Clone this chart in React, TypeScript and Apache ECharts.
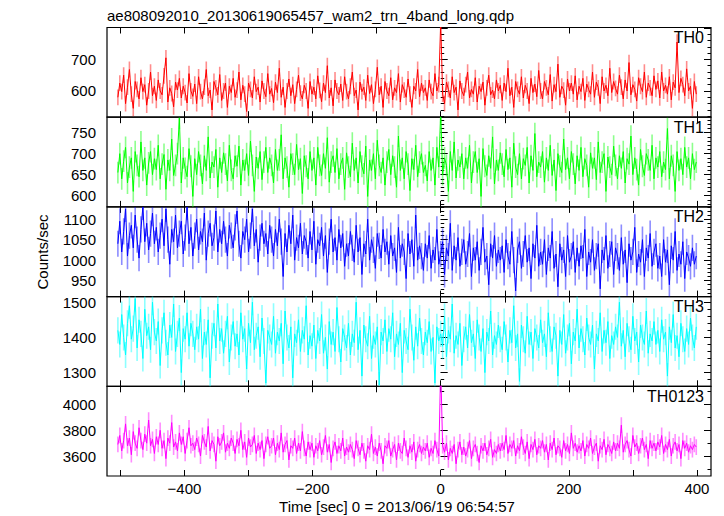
import React, { useEffect, useRef } from "react";
import * as echarts from "echarts";

const TITLE = "ae808092010_20130619065457_wam2_trn_4band_long.qdp";
const X_NAME = "Time [sec] 0 = 2013/06/19 06:54:57";
const Y_NAME = "Counts/sec";

// sampling grid of the light curves (sec)
const TIME_START = -504;
const TIME_STEP = 3;

const X_MIN = -521;
const X_MAX = 422;
const X_TICKS = [-500, -400, -300, -200, -100, 0, 100, 200, 300, 400];
const X_LABELS = [-400, -200, 0, 200, 400];

const PANEL_NAMES = ["TH0", "TH1", "TH2", "TH3", "TH0123"];
const PANEL_COLORS = ["#ff0000", "#00ff00", "#0000ff", "#00ffff", "#ff00ff"];
const ERR_COLORS = [
  "rgba(255,0,0,0.45)",
  "rgba(0,255,0,0.45)",
  "rgba(0,0,255,0.45)",
  "rgba(0,255,255,0.45)",
  "rgba(255,0,255,0.45)",
];
const ERRORS = [25, 26, 32, 37, 61];

const Y_MIN = [517, 573, 911, 1261, 3445];
const Y_MAX = [801, 787, 1130, 1516, 4142];
const Y_MAJOR = [
  [600, 700, 800],
  [600, 650, 700, 750],
  [950, 1000, 1050, 1100],
  [1300, 1400, 1500],
  [3600, 3800, 4000],
];
const Y_LABELS = [
  [600, 700],
  [600, 650, 700, 750],
  [950, 1000, 1050, 1100],
  [1300, 1400, 1500],
  [3600, 3800, 4000],
];
const Y_MINOR = [
  [520, 540, 560, 580, 600, 620, 640, 660, 680, 700, 720, 740, 760, 780, 800],
  [580, 590, 600, 610, 620, 630, 640, 650, 660, 670, 680, 690, 700, 710, 720, 730, 740, 750, 760, 770, 780],
  [920, 930, 940, 950, 960, 970, 980, 990, 1000, 1010, 1020, 1030, 1040, 1050, 1060, 1070, 1080, 1090, 1100, 1110, 1120, 1130],
  [1280, 1300, 1320, 1340, 1360, 1380, 1400, 1420, 1440, 1460, 1480, 1500],
  [3500, 3600, 3700, 3800, 3900, 4000, 4100],
];

const TH0 = [
  580, 625, 598, 650, 560, 612, 668, 590, 545, 630, 605, 575, 642, 598, 620, 555, 600, 660, 585, 615,
  570, 635, 600, 588, 648, 705, 565, 610, 592, 550, 628, 603, 640, 578, 615, 595, 562, 655, 600, 583,
  622, 560, 645, 598, 575, 612, 668, 585, 603, 540, 630, 610, 588, 652, 570, 600, 625, 548, 615, 595,
  640, 580, 603, 660, 572, 618, 590, 535, 625, 605, 578, 645, 598, 612, 565, 632, 600, 582, 655, 590,
  608, 563, 628, 595, 672, 580, 612, 548, 600, 638, 585, 620, 560, 605, 650, 593, 575, 618, 600, 545,
  630, 590, 612, 575, 648, 602, 566, 625, 595, 680, 578, 610, 553, 635, 600, 588, 622, 570, 645, 598,
  575, 615, 660, 585, 603, 540, 628, 598, 612, 570, 650, 592, 620, 560, 605, 675, 588, 615, 548, 630,
  600, 585, 642, 572, 610, 595, 655, 565, 620, 603, 580, 638, 590, 548, 615, 600, 668, 582, 625, 595,
  610, 570, 635, 598, 585, 655, 600, 620, 820, 590, 560, 628, 605, 578, 645, 595, 612, 540, 632, 600,
  585, 620, 660, 578, 605, 590, 642, 565, 615, 598, 628, 555, 610, 650, 588, 603, 575, 635, 600, 618,
  570, 625, 598, 672, 585, 612, 548, 630, 605, 590, 645, 578, 618, 600, 560, 640, 595, 622, 582, 665,
  600, 575, 630, 610, 588, 652, 568, 620, 598, 685, 580, 615, 603, 555, 638, 600, 625, 590, 648, 572,
  615, 598, 640, 570, 622, 605, 590, 660, 580, 628, 610, 560, 645, 600, 618, 585, 672, 595, 630, 608,
  590, 650, 612, 575, 635, 600, 690, 588, 620, 605, 568, 642, 615, 598, 660, 580, 625, 610, 585, 648,
  605, 632, 578, 660, 600, 618, 590, 645, 572, 628, 610, 755, 595, 640, 620, 585, 670, 600, 615, 545,
  630, 590,
];

const TH1 = [
  655, 700, 640, 682, 715, 630, 668, 690, 610, 705, 672, 645, 728, 660, 690, 625, 678, 705, 650, 688,
  662, 720, 640, 675, 698, 615, 685, 660, 735, 648, 672, 700, 785, 630, 690, 665, 645, 712, 670, 598,
  688, 650, 705, 672, 628, 695, 660, 740, 642, 680, 668, 710, 620, 690, 655, 702, 675, 635, 720, 660,
  640, 695, 670, 718, 625, 685, 660, 700, 648, 730, 672, 610, 692, 665, 705, 638, 680, 715, 655, 690,
  672, 630, 710, 660, 685, 745, 640, 690, 668, 620, 700, 675, 650, 722, 662, 688, 605, 695, 670, 640,
  705, 660, 690, 625, 715, 672, 648, 700, 665, 738, 632, 680, 695, 655, 712, 640, 675, 690, 615, 702,
  668, 645, 725, 660, 690, 630, 705, 670, 652, 718, 598, 685, 660, 700, 640, 732, 672, 655, 690, 625,
  680, 710, 650, 695, 668, 620, 742, 660, 690, 640, 705, 675, 612, 688, 662, 720, 645, 680, 700, 655,
  672, 635, 705, 660, 690, 625, 715, 668, 800, 650, 690, 672, 610, 705, 660, 728, 642, 685, 668, 700,
  640, 690, 665, 720, 630, 680, 705, 655, 688, 598, 712, 670, 648, 695, 665, 740, 628, 685, 660, 702,
  675, 645, 710, 662, 690, 620, 725, 668, 650, 700, 640, 688, 672, 715, 630, 695, 660, 748, 645, 680,
  668, 705, 632, 690, 660, 720, 648, 685, 612, 700, 670, 655, 735, 662, 690, 640, 705, 675, 628, 695,
  660, 715, 645, 688, 672, 620, 702, 665, 690, 638, 728, 655, 680, 700, 610, 692, 668, 650, 718, 672,
  640, 695, 665, 705, 630, 688, 675, 742, 650, 690, 662, 625, 710, 670, 648, 700, 685, 660, 720, 640,
  690, 668, 705, 645, 680, 662, 760, 640, 695, 672, 610, 705, 660, 688, 650, 715, 668, 690, 640, 700,
  662, 680,
];

const TH2 = [
  1040, 1095, 1020, 1070, 1125, 1010, 1060, 1085, 1030, 1110, 1050, 1005, 1075, 1130, 1045, 1090, 1025, 1065, 1115, 1040,
  1080, 1020, 1060, 1100, 1035, 1125, 1050, 990, 1075, 1045, 1110, 1030, 1065, 1095, 1015, 1055, 1130, 1040, 1080, 1010,
  1060, 1100, 1025, 1070, 1045, 1115, 1000, 1065, 1090, 1035, 1055, 1120, 1020, 1075, 1040, 1095, 1050, 1010, 1085, 1060,
  1030, 1080, 1120, 1040, 1005, 1070, 1050, 1100, 1020, 1060, 1125, 1035, 1075, 995, 1055, 1090, 1040, 1065, 1015, 1085,
  1050, 1010, 1075, 1035, 1100, 1045, 960, 1065, 1020, 1085, 1040, 1110, 1000, 1055, 1030, 1090, 1015, 1060, 1045, 1005,
  1070, 1025, 1095, 990, 1050, 1035, 1080, 1010, 1060, 970, 1045, 1100, 1020, 1055, 1000, 1075, 1030, 1065, 985, 1040,
  1010, 1070, 1030, 995, 1085, 1020, 1055, 965, 1040, 1015, 1100, 1000, 1050, 1025, 980, 1065, 1035, 1005, 1075, 1020,
  1045, 990, 1060, 1010, 1030, 970, 1080, 1005, 1040, 1020, 955, 1065, 1015, 1050, 985, 1110, 1000, 1035, 1010, 975,
  1040, 1005, 1060, 980, 1025, 1000, 1075, 990, 1015, 1045, 965, 1030, 1010, 1090, 975, 1035, 1000, 1055, 985, 1020,
  1050, 990, 1015, 1065, 960, 1030, 1000, 1045, 975, 1020, 1080, 995, 1010, 940, 1040, 1005, 1060, 985, 1025, 1000,
  1035, 970, 1050, 1010, 990, 1070, 1000, 925, 1025, 1045, 980, 1015, 1060, 995, 1030, 955, 1040, 1005, 1085, 985,
  1020, 990, 1050, 965, 1030, 1005, 1070, 980, 1015, 935, 1040, 1000, 1025, 960, 1060, 995, 1010, 1045, 970, 1030,
  985, 1035, 1005, 1075, 960, 1020, 995, 1050, 975, 1010, 1040, 930, 1025, 1000, 1060, 980, 1015, 1045, 965, 1030,
  1010, 975, 1055, 990, 1025, 945, 1040, 1000, 1020, 1080, 970, 1015, 995, 1050, 960, 1030, 1005, 1065, 985, 1020,
  1040, 980, 1010, 960, 1050, 995, 1025, 940, 1035, 1000, 1070, 975, 1015, 990, 1045, 955, 1020, 1005, 985, 1030,
  990, 1010,
];

const TH3 = [
  1420, 1380, 1465, 1400, 1350, 1440, 1490, 1395, 1425, 1510, 1370, 1450, 1410, 1340, 1480, 1405, 1430, 1365, 1500, 1415,
  1390, 1445, 1320, 1420, 1470, 1385, 1350, 1435, 1400, 1495, 1360, 1410, 1455, 1300, 1425, 1395, 1470, 1375, 1440, 1410,
  1365, 1430, 1395, 1480, 1340, 1415, 1380, 1450, 1285, 1405, 1440, 1370, 1495, 1390, 1425, 1355, 1410, 1460, 1330, 1400,
  1445, 1375, 1410, 1350, 1470, 1395, 1425, 1310, 1440, 1385, 1500, 1365, 1405, 1430, 1345, 1455, 1390, 1270, 1420, 1400,
  1380, 1460, 1355, 1415, 1390, 1440, 1325, 1475, 1400, 1370, 1430, 1285, 1410, 1385, 1450, 1360, 1420, 1395, 1490, 1350,
  1405, 1375, 1435, 1340, 1420, 1390, 1465, 1355, 1400, 1310, 1445, 1380, 1415, 1360, 1485, 1395, 1330, 1425, 1400, 1370,
  1440, 1350, 1410, 1385, 1500, 1365, 1420, 1290, 1435, 1395, 1375, 1460, 1340, 1405, 1380, 1430, 1265, 1415, 1390, 1450,
  1360, 1425, 1395, 1470, 1345, 1410, 1380, 1440, 1300, 1420, 1390, 1365, 1480, 1400, 1335, 1430, 1375, 1455, 1390, 1350,
  1415, 1385, 1445, 1360, 1400, 1270, 1430, 1390, 1410, 1375, 1460, 1345, 1420, 1395, 1495, 1355, 1405, 1380, 1440, 1320,
  1395, 1430, 1370, 1465, 1385, 1410, 1340, 1450, 1400, 1360, 1425, 1300, 1415, 1390, 1475, 1350, 1405, 1380, 1435, 1395,
  1365, 1445, 1400, 1330, 1420, 1385, 1490, 1370, 1410, 1275, 1435, 1395, 1355, 1460, 1380, 1415, 1340, 1425, 1400, 1370,
  1450, 1385, 1410, 1345, 1470, 1395, 1360, 1430, 1405, 1290, 1420, 1380, 1465, 1355, 1400, 1440, 1325, 1415, 1390, 1480,
  1370, 1425, 1395, 1350, 1455, 1400, 1380, 1435, 1310, 1410, 1390, 1470, 1360, 1420, 1385, 1445, 1340, 1405, 1380, 1430,
  1400, 1500, 1375, 1420, 1345, 1440, 1395, 1365, 1460, 1390, 1415, 1330, 1435, 1400, 1380, 1475, 1355, 1410, 1390, 1445,
  1380, 1420, 1360, 1450, 1395, 1415, 1290, 1430, 1385, 1465, 1370, 1405, 1345, 1440, 1395, 1360, 1425, 1380, 1455, 1400,
  1370, 1430,
];

const TH0123 = [
  3690, 3760, 3640, 3720, 3850, 3680, 3740, 3610, 3790, 3700, 3660, 3820, 3720, 3650, 3770, 3700, 3880, 3680, 3730, 3620,
  3750, 3690, 3800, 3660, 3720, 3580, 3740, 3700, 3860, 3670, 3710, 3640, 3780, 3690, 3750, 3620, 3720, 3820, 3680, 3700,
  3650, 3740, 3690, 3600, 3760, 3710, 3670, 3830, 3640, 3720, 3690, 3560, 3750, 3680, 3710, 3780, 3630, 3700, 3660, 3740,
  3700, 3620, 3730, 3680, 3800, 3650, 3710, 3590, 3740, 3670, 3690, 3760, 3620, 3700, 3650, 3720, 3580, 3690, 3750, 3660,
  3680, 3740, 3610, 3700, 3650, 3780, 3630, 3690, 3720, 3570, 3680, 3660, 3740, 3620, 3700, 3640, 3790, 3660, 3600, 3710,
  3650, 3700, 3590, 3680, 3640, 3720, 3610, 3670, 3760, 3630, 3690, 3550, 3660, 3710, 3620, 3680, 3640, 3740, 3600, 3670,
  3630, 3690, 3650, 3580, 3720, 3660, 3610, 3700, 3640, 3560, 3680, 3650, 3770, 3620, 3670, 3600, 3700, 3640, 3540, 3680,
  3660, 3720, 3600, 3650, 3690, 3570, 3700, 3640, 3620, 3740, 3660, 3590, 3680, 3630, 3710, 3560, 3650, 3690, 3620, 3670,
  3640, 3700, 3590, 3660, 3620, 3720, 3650, 3600, 4300, 3680, 3630, 3700, 3570, 3660, 3620, 3690, 3540, 3650, 3710, 3610,
  3670, 3600, 3650, 3720, 3580, 3660, 3690, 3620, 3550, 3680, 3640, 3700, 3610, 3660, 3730, 3590, 3650, 3620, 3690, 3640,
  3700, 3650, 3760, 3620, 3690, 3660, 3720, 3600, 3680, 3640, 3750, 3670, 3620, 3710, 3580, 3690, 3650, 3730, 3610, 3680,
  3660, 3720, 3630, 3690, 3570, 3700, 3650, 3740, 3610, 3680, 3660, 3590, 3720, 3640, 3690, 3620, 3780, 3660, 3700, 3630,
  3680, 3640, 3720, 3600, 3690, 3660, 3740, 3620, 3670, 3700, 3560, 3680, 3650, 3730, 3610, 3690, 3660, 3620, 3710, 3640,
  3700, 3660, 3840, 3630, 3690, 3720, 3650, 3600, 3760, 3670, 3700, 3620, 3680, 3740, 3650, 3690, 3580, 3720, 3660, 3700,
  3640, 3710, 3670, 3760, 3620, 3690, 3650, 3730, 3600, 3680, 3710, 3640, 3690, 3580, 3720, 3660, 3700, 3630, 3680, 3650,
  3690, 3670,
];

const PANEL_VALUES = [TH0, TH1, TH2, TH3, TH0123];

// layout
const W = 724;
const H = 516;
const GRID_LEFT = 107;
const GRID_RIGHT_X = 711;
const GRID_TOP = 27.5;
const PANEL_H = 89.7;
const FONT = "Liberation Sans, Arial, Helvetica, sans-serif";
const FS = 15;

const fmt = (v: number) => (v < 0 ? "\u2212" + Math.abs(v) : String(v));

function buildOption() {
  const grid: any[] = [];
  const xAxis: any[] = [];
  const yAxis: any[] = [];
  const series: any[] = [];
  const graphic: any[] = [];

  PANEL_NAMES.forEach((name, i) => {
    const top = GRID_TOP + i * PANEL_H;
    grid.push({
      left: GRID_LEFT,
      width: GRID_RIGHT_X - GRID_LEFT,
      top,
      height: PANEL_H,
      show: true,
      borderColor: "#000",
      borderWidth: 1.2,
      backgroundColor: "transparent",
    });
    const last = i === PANEL_NAMES.length - 1;
    ["bottom", "top"].forEach((pos) => {
      xAxis.push({
        gridIndex: i,
        type: "value",
        position: pos,
        min: X_MIN,
        max: X_MAX,
        axisLine: { show: false },
        splitLine: { show: false },
        axisTick: {
          show: true,
          inside: true,
          length: 6,
          customValues: X_TICKS,
          lineStyle: { color: "#000", width: 1 },
        },
        axisLabel: {
          show: last && pos === "bottom",
          customValues: X_LABELS,
          formatter: fmt,
          color: "#000",
          fontFamily: FONT,
          fontSize: FS,
          margin: 5,
        },
      });
    });
    const mk = (pos: string, major: boolean) => ({
      gridIndex: i,
      type: "value",
      position: pos,
      min: Y_MIN[i],
      max: Y_MAX[i],
      axisLine: { show: false },
      splitLine: { show: false },
      axisTick: {
        show: true,
        inside: true,
        length: major ? 7 : 3.5,
        customValues: major ? Y_MAJOR[i] : Y_MINOR[i],
        lineStyle: { color: "#000", width: 1 },
      },
      axisLabel: {
        show: major && pos === "left",
        customValues: Y_LABELS[i],
        formatter: fmt,
        color: "#000",
        fontFamily: FONT,
        fontSize: FS,
        margin: 11,
      },
    });
    const yBase = yAxis.length;
    yAxis.push(mk("left", true), mk("left", false), mk("right", true), mk("right", false));

    const vals = PANEL_VALUES[i];
    const pts = vals.map((v, k) => [TIME_START + k * TIME_STEP, v, ERRORS[i]]);
    series.push({
      type: "custom",
      xAxisIndex: i * 2,
      yAxisIndex: yBase,
      clip: true,
      silent: true,
      encode: { x: 0, y: 1 },
      data: pts,
      renderItem: (_p: any, api: any) => {
        const t = api.value(0);
        const v = api.value(1);
        const e = api.value(2);
        const a = api.coord([t, v - e]);
        const b = api.coord([t, v + e]);
        return {
          type: "line",
          shape: { x1: a[0], y1: a[1], x2: b[0], y2: b[1] },
          style: { stroke: ERR_COLORS[i], lineWidth: 1.6 },
        };
      },
    });
    series.push({
      type: "line",
      name,
      xAxisIndex: i * 2,
      yAxisIndex: yBase,
      data: pts.map((p) => [p[0], p[1]]),
      symbol: "none",
      clip: true,
      lineStyle: { color: PANEL_COLORS[i], width: 1 },
      itemStyle: { color: PANEL_COLORS[i] },
    });
    graphic.push({
      type: "text",
      x: 704,
      y: top + 10,
      z: 100,
      style: {
        text: name,
        fill: "#000",
        font: `${FS + 1}px ${FONT}`,
        align: "right",
        verticalAlign: "middle",
      },
    });
  });

  graphic.push({
    type: "text",
    x: GRID_LEFT,
    y: 15,
    style: { text: TITLE, fill: "#000", font: `${FS}px ${FONT}`, align: "left", verticalAlign: "middle" },
  });
  graphic.push({
    type: "text",
    x: 397,
    y: 506,
    style: { text: X_NAME, fill: "#000", font: `${FS}px ${FONT}`, align: "center", verticalAlign: "middle" },
  });
  graphic.push({
    type: "text",
    x: 42,
    y: 252,
    rotation: Math.PI / 2,
    style: { text: Y_NAME, fill: "#000", font: `${FS}px ${FONT}`, align: "center", verticalAlign: "middle" },
  });

  return {
    animation: false,
    backgroundColor: "#fff",
    grid,
    xAxis,
    yAxis,
    series,
    graphic,
  };
}

export default function App() {
  const ref = useRef<HTMLDivElement>(null);
  useEffect(() => {
    if (!ref.current) return;
    const chart = echarts.init(ref.current, undefined, { renderer: "svg", width: W, height: H });
    chart.setOption(buildOption() as any);
    return () => chart.dispose();
  }, []);
  return <div ref={ref} style={{ position: "fixed", left: 0, top: 0, width: W, height: H }} />;
}
